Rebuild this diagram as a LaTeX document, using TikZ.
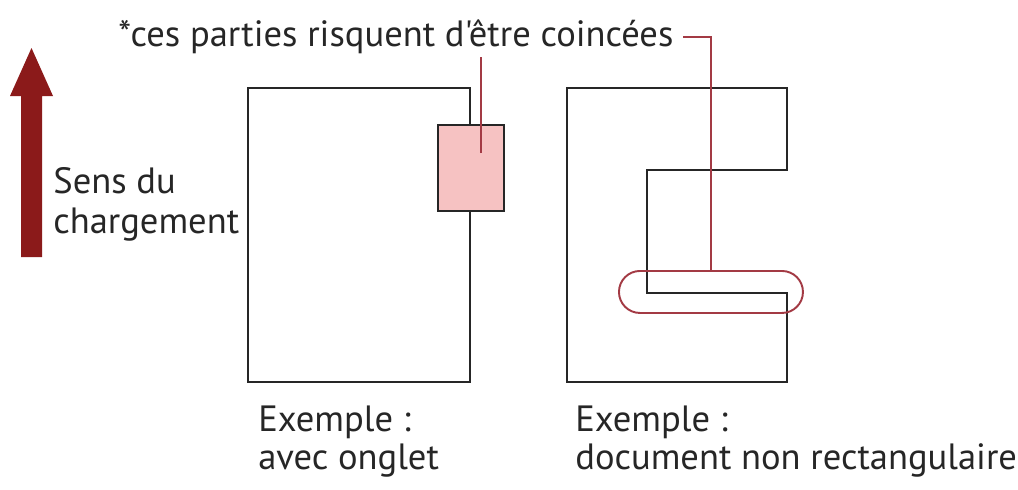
\documentclass[tikz,border=0pt]{standalone}
\usepackage{fontspec}
\newfontfamily\ptsans{PT Sans}
\usetikzlibrary{arrows.meta}
\definecolor{arrowred}{HTML}{8B1A1A}
\definecolor{callred}{HTML}{A33A44}
\definecolor{tabpink}{HTML}{F6C2C2}
\begin{document}
\begin{tikzpicture}[x=0.02cm,y=-0.02cm,
  doc/.style={draw=black!85,line width=1.2pt},
  callout/.style={draw=callred,line width=1.1pt},
  lbl/.style={inner sep=0pt,anchor=base west,font=\ptsans\fontsize{20.8}{24}\selectfont,text=black!85}]
\useasboundingbox (0,0) rectangle (1018,490);
% loading direction arrow
\fill[arrowred] (21,257) -- (21,96) -- (10,96) -- (31.5,48) -- (53,96) -- (42,96) -- (42,257) -- cycle;
\node[lbl] (sens) at (53,193) {Sens du};
\node[lbl] (charg) at (53,233) {chargement};
% left document with tab
\draw[doc] (248,88) rectangle (470,382);
\node[draw=black!85,line width=1.2pt,fill=tabpink,minimum width=66*0.02cm,minimum height=86*0.02cm,inner sep=0pt,anchor=north west] (tab) at (437,124) {};
% right document
\draw[doc] (567,88) -- (787,88) -- (787,170) -- (647,170) -- (647,293) -- (787,293) -- (787,382) -- (567,382) -- cycle;
\node[draw=callred,line width=1.1pt,rounded corners=21*0.02cm,minimum width=184*0.02cm,minimum height=42*0.02cm,inner sep=0pt,anchor=north west] (pill) at (618,270) {};
% note
\node[lbl] (note) at (118,47) {*ces parties risquent d'être coincées};
\coordinate (tabpt) at (481,153);
\coordinate (tabtop) at (481,57);
\coordinate (bend) at (711,37);
\coordinate (nstart) at (683,37);
\draw[callout] (tabpt) -- (tabtop);
\draw[callout] (nstart) -- (bend) -- (bend |- pill.north);
% captions
\node[lbl] (ex1) at (258,431) {Exemple :};
\node[lbl] (cap1) at (258,469) {avec onglet};
\node[lbl] (ex2) at (575,431) {Exemple :};
\node[lbl] (cap2) at (575,469) {document non rectangulaire};
\end{tikzpicture}
\end{document}
